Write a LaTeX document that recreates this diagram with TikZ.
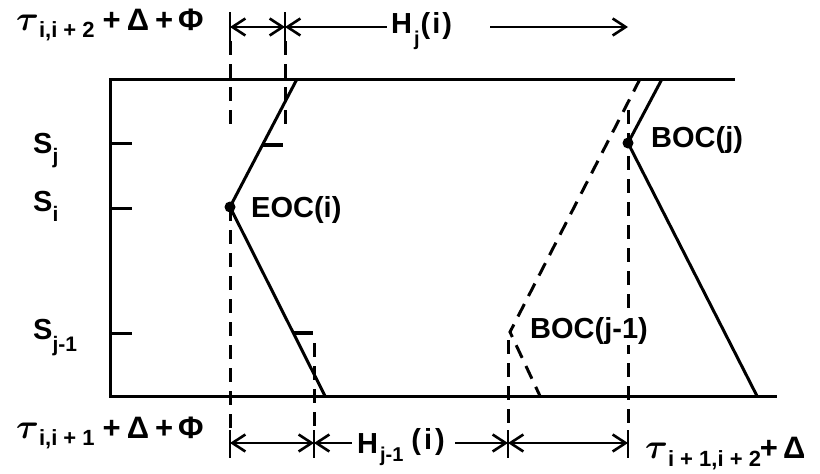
\documentclass[tikz,border=0pt]{standalone}
\usepackage{fontspec}
\setmainfont{Liberation Sans}
\usetikzlibrary{arrows.meta}
\newcommand{\lowsub}[3][9pt]{\raisebox{-#1}{\fontsize{#2}{#2}\selectfont #3}}
\newcommand{\bigtau}{\scalebox{1.4}{\boldmath$\tau$}}
\newcommand{\bigsym}[1]{{\fontsize{31}{33}\selectfont #1}}
\begin{document}
\begin{tikzpicture}[x=1pt,y=-1pt,
  ln/.style={line width=3pt},
  dsh/.style={line width=3pt, dash pattern=on 14pt off 9pt},
  tick/.style={line width=3.6pt},
  bar/.style={line width=2.8pt},
  harr/.style={line width=2.8pt},
  rt/.style={-{Straight Barb[length=13pt,width=17pt,line width=2.6pt]}},
  lt/.style={{Straight Barb[length=13pt,width=17pt,line width=2.6pt]}-},
  both/.style={{Straight Barb[length=13pt,width=17pt,line width=2.6pt]}-{Straight Barb[length=13pt,width=17pt,line width=2.6pt]}},
  lbl/.style={font=\fontsize{29}{31}\selectfont\bfseries, inner sep=0pt, anchor=base west},
  dot/.style={circle, fill=black, inner sep=0pt, minimum size=11pt}]
\useasboundingbox (0,0) rectangle (820,474);
% frame
\coordinate (TL) at (110,79);
\coordinate (TR) at (735,79);
\coordinate (BL) at (110,396);
\coordinate (BR) at (777,396);
\draw[ln] (TR) -- (TL) -- (BL) -- (BR);
% axis ticks and labels
\coordinate (kj) at (110,143);  \coordinate (kj2) at (132,143);
\coordinate (ki) at (110,208);  \coordinate (ki2) at (132,208);
\coordinate (km) at (110,333);  \coordinate (km2) at (132,333);
\draw[ln] (kj) -- (kj2) (ki) -- (ki2) (km) -- (km2);
\node[lbl] (Sj) at (33,153) {S\lowsub[10pt]{21}{j}};
\node[lbl] (Si) at (33,211) {S\lowsub[10pt]{21}{i}};
\node[lbl] (Sjm) at (33,339) {S\lowsub[12pt]{21}{j-1}};
% points
\node[dot] (eoc) at (230,207) {};
\node[dot] (bocj) at (628,143) {};
\coordinate (bocjm) at (510,332);
% solid slanted paths
\coordinate (p1) at (297,79);
\coordinate (p2) at (325,396);
\draw[ln] (p1) -- (eoc.center) -- (p2);
\coordinate (q1) at (662,79);
\coordinate (q2) at (757,396);
\draw[ln] (q1) -- (bocj.center) -- (q2);
% dashed slanted path
\coordinate (r1) at (640,79);
\coordinate (r2) at (540,396);
\draw[dsh] (r1) -- (bocjm) -- (r2);
% small ticks on left path
\coordinate (t1a) at (263,145); \coordinate (t1b) at (283,145);
\coordinate (t2a) at (293,333); \coordinate (t2b) at (313,333);
\draw[tick] (t1a) -- (t1b) (t2a) -- (t2b);
% dashed verticals
\coordinate (v1t) at (230,41);  \coordinate (v1m) at (230,130);
\coordinate (v2t) at (285,41);  \coordinate (v2m) at (285,130);
\coordinate (v1b) at (230,430);
\coordinate (v3t) at (314,343); \coordinate (v3b) at (314,430);
\coordinate (v4t) at (508,340); \coordinate (v4b) at (508,430);
\coordinate (v5t) at (628,110); \coordinate (v5b) at (628,430);
\draw[dsh] (v1t) -- (v1m);
\draw[dsh] (v2t) -- (v2m);
\draw[dsh] (eoc.center) -- (v1b);
\draw[dsh] (v3t) -- (v3b);
\draw[dsh] (v4t) -- (v4b);
\draw[dsh] (v5t) -- (v5b);
% point labels
\node[lbl] (eocl) at (251,217) {EOC(i)};
\node[lbl] (bocjl) at (651,147) {BOC(j)};
\node[lbl, fill=white, inner sep=1pt] (bocjml) at (529,338) {BOC(j-1)};
% top dimension arrows
\coordinate (a1) at (230,27);
\coordinate (a2) at (285,27);
\coordinate (a3) at (628,27);
\draw[bar] (230,12) -- (v1t);
\draw[bar] (285,12) -- (v2t);
\draw[harr,both] (a1) -- (a2);
\node[lbl] (hj) at (391,33) {H\hspace{2pt}\lowsub[12pt]{20}{j}\hspace{1pt}(\hspace{2pt}i\hspace{2pt})};
\coordinate (h1l) at (387,27);
\coordinate (h1r) at (490,27);
\draw[harr,lt] (a2) -- (h1l);
\draw[harr,rt] (h1r) -- (a3);
\node[lbl] (toptxt) at (16,30) {\bigtau\lowsub[7pt]{22}{i,i + 2}\hspace{8pt}\bigsym{+\hspace{6pt}Δ\hspace{6pt}+\hspace{5pt}Φ}};
% bottom dimension arrows
\coordinate (b1) at (230,443);
\coordinate (b2) at (314,443);
\coordinate (b3) at (508,443);
\coordinate (b4) at (628,443);
\draw[bar] (v1b) -- (230,458);
\draw[bar] (v3b) -- (314,458);
\draw[bar] (v4b) -- (508,458);
\draw[bar] (v5b) -- (628,458);
\draw[harr,both] (b1) -- (b2);
\node[lbl] (hjm) at (357,453) {H\hspace{2pt}\lowsub[8pt]{20}{j-1}\hspace{8pt}\raisebox{4pt}{(\hspace{3pt}i\hspace{3pt})}};
\coordinate (h2l) at (352,443);
\coordinate (h2r) at (455,443);
\draw[harr,lt] (b2) -- (h2l);
\draw[harr,rt] (h2r) -- (b3);
\draw[harr,both] (b3) -- (b4);
\node[lbl] (bottxt) at (16,438) {\bigtau\lowsub[7pt]{22}{i,i + 1}\hspace{8pt}\bigsym{+\hspace{6pt}Δ\hspace{6pt}+\hspace{5pt}Φ}};
\node[lbl] (brtxt) at (645,458) {\bigtau\lowsub[8pt]{22}{i + 1,i + 2}\hspace{-1pt}\bigsym{+\hspace{5pt}Δ}};
\end{tikzpicture}
\end{document}
